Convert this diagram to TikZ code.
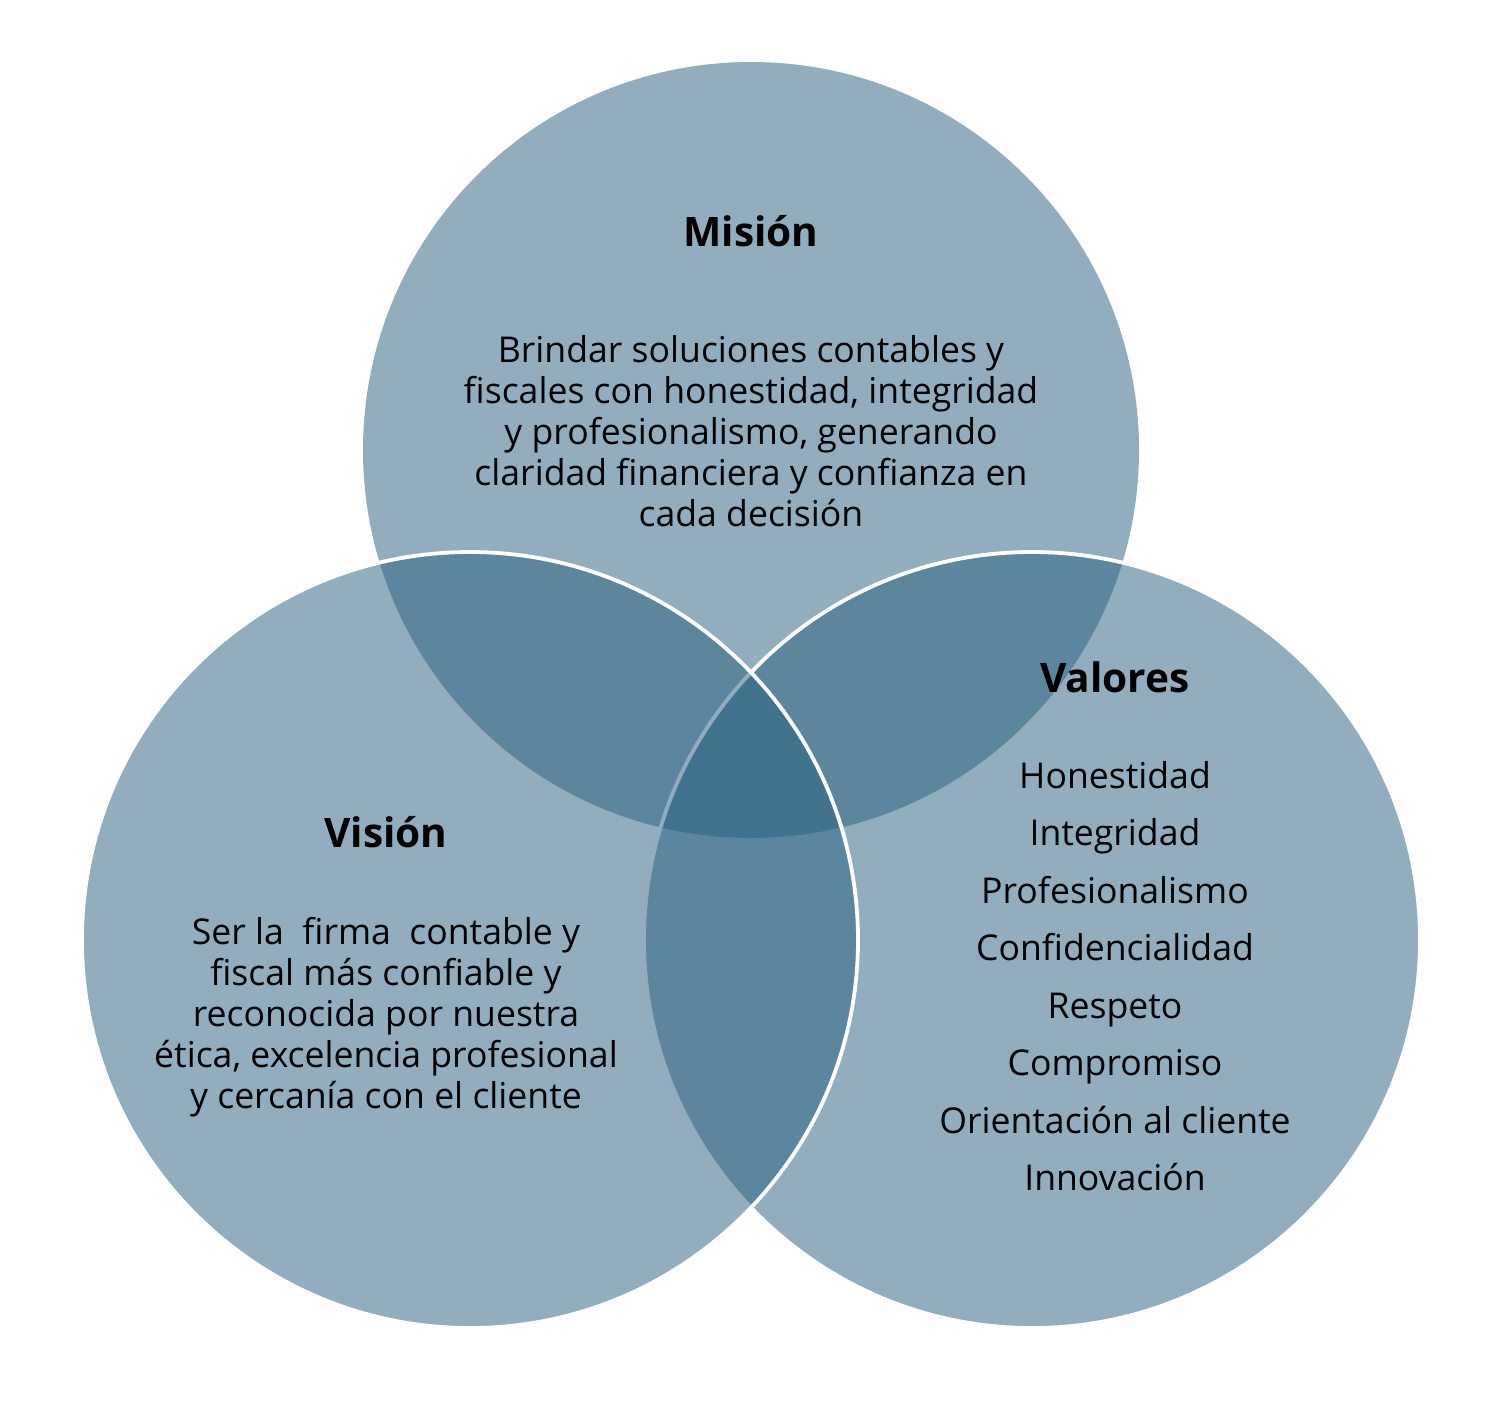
\documentclass[tikz,border=0pt]{standalone}
\usepackage{fontspec}
\setmainfont{Open Sans}
\definecolor{vennblue}{RGB}{41,96,127}
\begin{document}
\begin{tikzpicture}[
x=0.5pt,y=-0.5pt,
disc/.style={circle,minimum size=388pt,inner sep=0pt,fill=vennblue,fill opacity=0.51},
rim/.style={disc,draw=white,draw opacity=1,line width=1.9pt},
title/.style={font=\fontsize{20.3}{22}\selectfont\bfseries},
body/.style={align=center,font=\fontsize{17.8}{20.5}\selectfont}
]
\useasboundingbox (0,0) rectangle (1502,1408);
\node[disc] (mision) at (751,450) {};
\node[rim] (valores) at (1032,940) {};
\node[rim] (vision) at (470,940) {};

\node[title] (misionT) at (751,231) {Misión};
\node[body] (misionB) at (751,431) {Brindar soluciones contables y\\
fiscales con honestidad, integridad\\
y profesionalismo, generando\\
claridad financiera y confianza en\\
cada decisión};

\node[title] (visionT) at (386,832) {Visión};
\node[body] (visionB) at (386,1017) {Ser la\ \ firma\ \ contable y\\
fiscal más confiable y\\
reconocida por nuestra\\
ética, excelencia profesional\\
y cercanía con el cliente};

\node[title] (valoresT) at (1115,677) {Valores};
\node[body,font=\fontsize{17.8}{28.75}\selectfont] (valoresB) at (1115,976) {Honestidad\\
Integridad\\
Profesionalismo\\
Confidencialidad\\
Respeto\\
Compromiso\\
Orientación al cliente\\
Innovación};
\end{tikzpicture}
\end{document}
